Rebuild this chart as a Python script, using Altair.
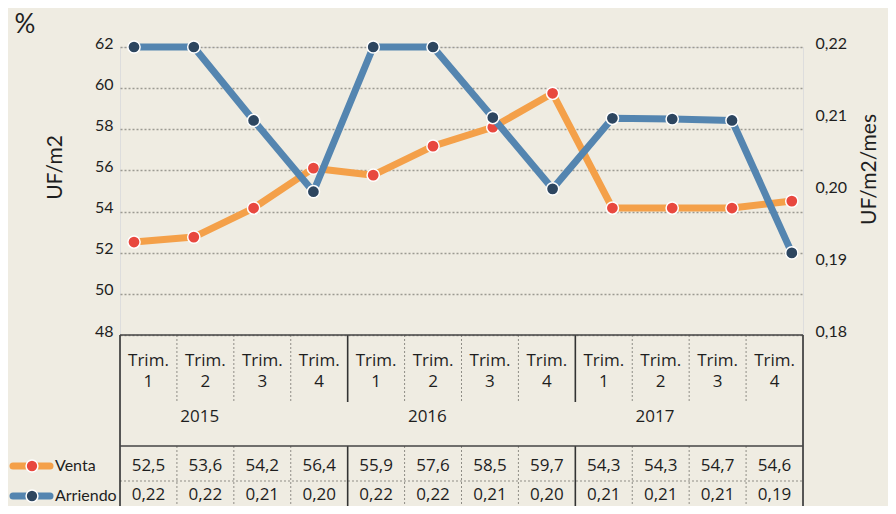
import altair as alt
import pandas as pd

# ---------------- data ----------------
years = ["2015", "2016", "2017"]
quarters = ["1", "2", "3", "4"]
venta_table = ["52,5", "53,6", "54,2", "56,4", "55,9", "57,6", "58,5", "59,7",
               "54,3", "54,3", "54,7", "54,6"]
arriendo_table = ["0,22", "0,22", "0,21", "0,20", "0,22", "0,22", "0,21", "0,20",
                  "0,21", "0,21", "0,21", "0,19"]
# values as drawn in the line chart
venta_plot = [52.52, 52.76, 54.17, 56.11, 55.77, 57.18, 58.10, 59.75,
              54.17, 54.17, 54.17, 54.51]
arriendo_plot = [0.2200, 0.2200, 0.2098, 0.1999, 0.2200, 0.2200, 0.2102, 0.2003,
                 0.2101, 0.2100, 0.2098, 0.1914]
left_ticks = [48, 50, 52, 54, 56, 58, 60, 62]
right_ticks = [0.18, 0.19, 0.20, 0.21, 0.22]

# ---------------- layout / style ----------------
W, H = 683, 459
PLOT_H = 288
BG = "#efece2"
TXT = "#1e1e1e"
ORANGE, RED = "#f4a049", "#e8483f"
BLUE, NAVY = "#5485b0", "#2d4660"
FONT = "Lato"
TFONT = "Open Sans"

NCOL = len(years) * len(quarters)
# line x scale: first point 14px from the left, 59.8px apart
STEP = 59.8
X0 = -14 / STEP
X1 = X0 + W / STEP

# table rows (pixels below the table top)
T_BOTTOM = H - PLOT_H
HEAD_END = 67
ROW_TRIM = 26
ROW_YEAR = 82
SOLID_H = 111
ROW_VENTA = 131
DOT_H = 146
ROW_ARR = 160

lines_df = pd.DataFrame({"i": list(range(NCOL)), "venta": venta_plot, "arriendo": arriendo_plot})

x_line = alt.X("i:Q", scale=alt.Scale(domain=[X0, X1], nice=False, zero=False), axis=None)

label_expr = "replace(format(datum.value, '.2f'), '.', ',')"

y_left = alt.Y(
    "venta:Q",
    scale=alt.Scale(domain=[48, 62], range=[PLOT_H, 0], nice=False, zero=False),
    axis=alt.Axis(values=left_ticks, grid=True, gridDash=[2, 2], gridColor="#9c9a92",
                  gridWidth=1.5, domain=False, ticks=False, labelPadding=7,
                  labelFontSize=16, labelColor=TXT, labelOffset=-4, labelFont=FONT,
                  title="UF/m2", titleFontSize=21, titleFont=FONT, titleFontWeight="normal",
                  titleColor=TXT, titleX=-65, titleY=120, titleAngle=270,
                  titleAlign="center", titleBaseline="middle", orient="left"),
)
y_right = alt.Y(
    "arriendo:Q",
    scale=alt.Scale(domain=[0.18, 0.22], range=[PLOT_H, 0], nice=False, zero=False),
    axis=alt.Axis(values=right_ticks, grid=False, domain=False, ticks=False, labelPadding=12,
                  labelFontSize=16, labelColor=TXT, labelOffset=-4, labelFont=FONT,
                  labelExpr=label_expr,
                  title="UF/m2/mes", titleFontSize=21, titleFont=FONT, titleFontWeight="normal",
                  titleColor=TXT, titleX=66, titleY=122, titleAngle=270,
                  titleAlign="center", titleBaseline="middle", orient="right"),
)

base_l = alt.Chart(lines_df).encode(x=x_line, y=y_left)
venta_layer = alt.layer(
    base_l.mark_line(color=ORANGE, strokeWidth=7, strokeJoin="round"),
    base_l.mark_circle(size=150, color=RED, opacity=1, stroke="white", strokeWidth=1.5),
)
base_r = alt.Chart(lines_df).encode(x=x_line, y=y_right)
arriendo_layer = alt.layer(
    base_r.mark_line(color=BLUE, strokeWidth=7, strokeJoin="round"),
    base_r.mark_circle(size=150, color=NAVY, opacity=1, stroke="white", strokeWidth=1.5),
)

# ---------------- table ----------------
xs = alt.Scale(domain=[0, NCOL], nice=False, zero=False)
ys = alt.Scale(domain=[0, T_BOTTOM], range=[PLOT_H, H], nice=False, zero=False)

solid_v, dot_v = [], []
for k in range(1, NCOL):
    for a, b in [(0, HEAD_END), (SOLID_H, T_BOTTOM)]:
        row = {"x": k, "y": a, "y2": b}
        (solid_v if k % len(quarters) == 0 else dot_v).append(row)
frame_v = [{"x": 0, "y": 0, "y2": T_BOTTOM}, {"x": NCOL, "y": 0, "y2": T_BOTTOM}]
frame_h = [{"x": 0, "x2": NCOL, "y": 0}, {"x": 0, "x2": NCOL, "y": SOLID_H}]
dot_h = [{"x": 0, "x2": NCOL, "y": DOT_H}]


def vrules(rows, **kw):
    return alt.Chart(pd.DataFrame(rows)).mark_rule(**kw).encode(
        x=alt.X("x:Q", scale=xs, axis=None),
        y=alt.Y("y:Q", scale=ys, axis=None), y2="y2:Q")


def hrules(rows, **kw):
    return alt.Chart(pd.DataFrame(rows)).mark_rule(**kw).encode(
        x=alt.X("x:Q", scale=xs, axis=None), x2="x2:Q",
        y=alt.Y("y:Q", scale=ys, axis=None))


cells = []
for i in range(NCOL):
    q = quarters[i % len(quarters)]
    cells.append({"c": i + 0.5, "y": ROW_TRIM, "t": "Trim.\n" + q})
    cells.append({"c": i + 0.5, "y": ROW_VENTA, "t": venta_table[i]})
    cells.append({"c": i + 0.5, "y": ROW_ARR, "t": arriendo_table[i]})
for j, yr in enumerate(years):
    cells.append({"c": j * len(quarters) + 1.4, "y": ROW_YEAR, "t": yr})
cells_df = pd.DataFrame(cells)

cell_text = alt.Chart(cells_df).mark_text(
    fontSize=17, font=TFONT, color=TXT, align="center", baseline="middle",
    lineBreak="\n", lineHeight=21).encode(
    x=alt.X("c:Q", scale=xs, axis=None),
    y=alt.Y("y:Q", scale=ys, axis=None),
    text="t:N")

legend_df = pd.DataFrame({"name": ["Venta", "Arriendo"], "y": [ROW_VENTA, ROW_ARR + 1],
                          "line": [ORANGE, BLUE], "dot": [RED, NAVY]})
leg_y = alt.Y("y:Q", scale=ys, axis=None)
leg_line = alt.Chart(legend_df).mark_rule(strokeWidth=7, strokeCap="round").encode(
    x=alt.value(-107), x2=alt.value(-70), y=leg_y,
    color=alt.Color("line:N", scale=None))
leg_dot = alt.Chart(legend_df).mark_circle(size=140, opacity=1, stroke="white",
                                          strokeWidth=1.5).encode(
    x=alt.value(-88), y=leg_y, color=alt.Color("dot:N", scale=None))
leg_text = alt.Chart(legend_df).mark_text(
    fontSize=16, font=FONT, color=TXT, align="left", baseline="middle").encode(
    x=alt.value(-65), y=leg_y, text="name:N")

pct = alt.Chart(pd.DataFrame({"t": ["%"]})).mark_text(
    fontSize=26, font=FONT, color=TXT, align="center", baseline="middle").encode(
    x=alt.value(-95), y=alt.value(-22), text="t:N")

table_layer = alt.layer(
    vrules(dot_v, color="#8f8d86", strokeWidth=1, strokeDash=[2, 2]),
    hrules(dot_h, color="#8f8d86", strokeWidth=1, strokeDash=[2, 2]),
    vrules(solid_v, color="#333333", strokeWidth=1.6),
    vrules(frame_v, color="#333333", strokeWidth=1.6),
    hrules(frame_h, color="#444444", strokeWidth=1.6),
    cell_text, leg_line, leg_dot, leg_text, pct,
)

chart = alt.layer(venta_layer, arriendo_layer, table_layer).resolve_scale(
    x="independent", y="independent"
).properties(
    width=W, height=H,
    autosize=alt.AutoSizeParams(type="none"),
    padding={"left": 112, "top": 39, "right": 85, "bottom": 0},
    background=BG,
).configure_view(stroke=None).configure(font=FONT)

chart.save("out.html", embed_options={"renderer": "svg", "actions": False})
